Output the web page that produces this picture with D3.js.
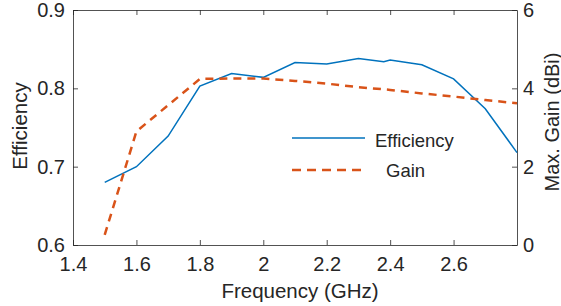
<!DOCTYPE html>
<html>
<head>
<meta charset="utf-8">
<script src="https://cdn.jsdelivr.net/npm/d3@7"></script>
<style>
  body { margin: 0; background: #fff; overflow: hidden; }
  text { font-family: "Liberation Sans", Arial, sans-serif; fill: #262626; }
</style>
</head>
<body>
<div id="chart"></div>
<script>
// data
const freq = [1.5, 1.6, 1.7, 1.8, 1.9, 2.0, 2.1, 2.2, 2.3, 2.38, 2.4, 2.5, 2.6, 2.7, 2.8];
const efficiency = [0.68, 0.70, 0.739, 0.803, 0.819, 0.814, 0.833, 0.831, 0.838, 0.834, 0.836, 0.830, 0.812, 0.774, 0.718];
const gainFreq = [1.5, 1.6, 1.7, 1.8, 1.9, 2.0, 2.1, 2.2, 2.3, 2.4, 2.5, 2.6, 2.7, 2.8];
const gain = [0.26, 2.9, 3.57, 4.24, 4.25, 4.25, 4.19, 4.12, 4.03, 3.96, 3.87, 3.79, 3.70, 3.62];
const xTicks = [1.4, 1.6, 1.8, 2, 2.2, 2.4, 2.6];
const effTicks = [0.6, 0.7, 0.8, 0.9];
const gainTicks = [0, 2, 4, 6];

const W = 561, H = 306;
const margin = {top: 10, right: 44, bottom: 61, left: 73};
const width = W - margin.left - margin.right,
      height = H - margin.top - margin.bottom;

const svg = d3.select("#chart").append("svg")
  .attr("width", W).attr("height", H)
  .append("g")
  .attr("transform", `translate(${margin.left},${margin.top})`);

const x = d3.scaleLinear().domain([1.4, 2.8]).range([0, width]);
const yL = d3.scaleLinear().domain([0.6, 0.9]).range([height, 0]);
const yR = d3.scaleLinear().domain([0, 6]).range([height, 0]);

const axisColor = "#262626";

// bottom axis
const gx = svg.append("g")
  .attr("transform", `translate(0,${height})`)
  .call(d3.axisBottom(x).tickValues(xTicks).tickSizeInner(-5).tickSizeOuter(0).tickPadding(12).tickFormat(d3.format("")));
// top axis (ticks only)
const gt = svg.append("g")
  .call(d3.axisTop(x).tickValues(xTicks).tickSizeInner(-5).tickSizeOuter(0).tickFormat(""));
// left axis
const gl = svg.append("g")
  .call(d3.axisLeft(yL).tickValues(effTicks).tickSizeInner(-5).tickSizeOuter(0).tickPadding(8).tickFormat(d3.format(".1f")));
// right axis
const gr = svg.append("g")
  .attr("transform", `translate(${width},0)`)
  .call(d3.axisRight(yR).tickValues(gainTicks).tickSizeInner(-5).tickSizeOuter(0).tickPadding(6).tickFormat(d3.format("d")));

[gx, gt, gl, gr].forEach(g => {
  g.select(".domain").attr("stroke", axisColor).attr("stroke-width", 0.8);
  g.selectAll(".tick line").attr("stroke", axisColor).attr("stroke-width", 0.8);
  g.selectAll(".tick text").style("font-size", "20px").attr("fill", axisColor);
});

// efficiency line
const effLine = d3.line().x((d, i) => x(freq[i])).y(d => yL(d));
svg.append("path")
  .datum(efficiency)
  .attr("fill", "none")
  .attr("stroke", "#0072BD")
  .attr("stroke-width", 1.5)
  .attr("d", effLine);

// gain line
const gainLine = d3.line().x((d, i) => x(gainFreq[i])).y(d => yR(d));
svg.append("path")
  .datum(gain)
  .attr("fill", "none")
  .attr("stroke", "#D95319")
  .attr("stroke-width", 2.5)
  .attr("stroke-dasharray", "8,6")
  .attr("d", gainLine);

// axis titles
svg.append("text")
  .attr("transform", `translate(${-46.5},${116}) rotate(-90)`)
  .attr("text-anchor", "middle")
  .style("font-size", "20.5px")
  .text("Efficiency");
svg.append("text")
  .attr("transform", `translate(${width + 41.5},${112}) rotate(-90)`)
  .attr("text-anchor", "middle")
  .style("font-size", "20px")
  .text("Max. Gain (dBi)");
svg.append("text")
  .attr("x", width / 2 + 5)
  .attr("y", height + 53)
  .attr("text-anchor", "middle")
  .style("font-size", "20.5px")
  .text("Frequency (GHz)");

// legend
const legend = svg.append("g").attr("transform", `translate(${292 - margin.left},${138 - margin.top})`);
legend.append("line")
  .attr("x1", 0).attr("x2", 73).attr("y1", 0).attr("y2", 0)
  .attr("stroke", "#0072BD").attr("stroke-width", 1.5);
legend.append("text")
  .attr("x", 83).attr("y", 8.5)
  .style("font-size", "18.5px")
  .text("Efficiency");
legend.append("line")
  .attr("x1", 0).attr("x2", 73).attr("y1", 32).attr("y2", 32)
  .attr("stroke", "#D95319").attr("stroke-width", 2.5)
  .attr("stroke-dasharray", "9,6");
legend.append("text")
  .attr("x", 94).attr("y", 38.5)
  .style("font-size", "18.5px")
  .text("Gain");
</script>
</body>
</html>
